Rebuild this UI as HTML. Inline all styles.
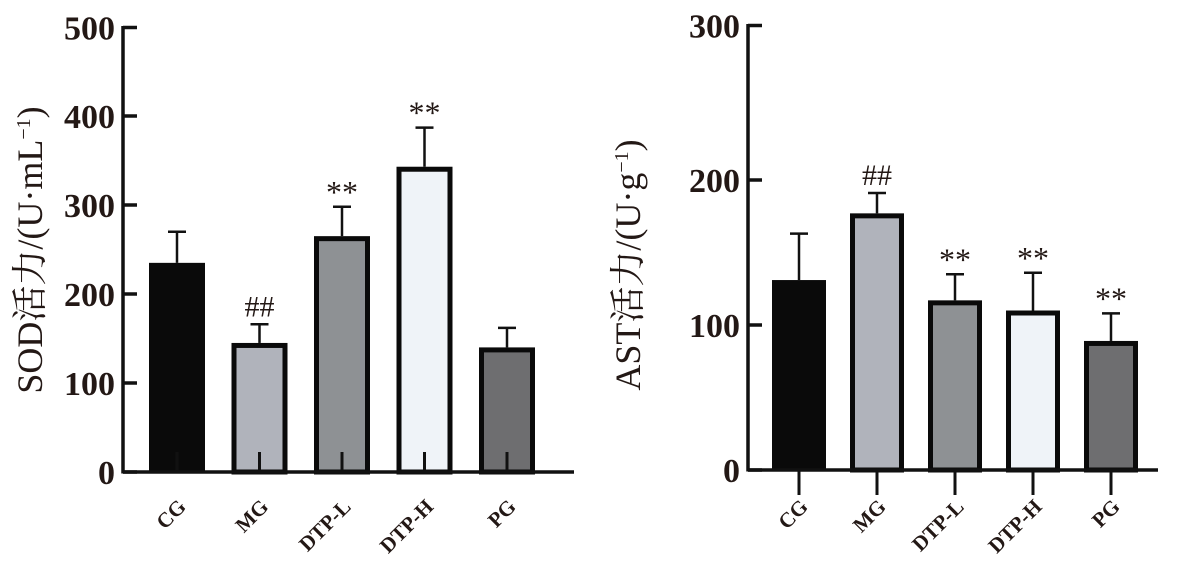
<!DOCTYPE html>
<html><head><meta charset="utf-8"><style>
body{margin:0;background:#fff;width:1181px;height:585px;overflow:hidden}
svg{display:block}
text{font-family:"Liberation Serif","Noto Serif CJK SC",serif;fill:#231815}
</style></head><body>
<svg id="svg" width="1181" height="585" viewBox="0 0 1181 585"></svg>
<script>
const categories=["CG","MG","DTP-L","DTP-H","PG"];
const sodValues=[235,145,265,343,140];
const sodErrors=[270,166,298,387,162];
const sodMarks=["","##","**","**",""];
const sodTicks=[0,100,200,300,400,500];
const astValues=[131,177,117,110,89];
const astErrors=[163,191,135,136,108];
const astMarks=["","##","**","**","**"];
const astTicks=[0,100,200,300];
const fills=["#0a0a0a","#b0b3bb","#8e9194","#eff3f8","#6e6e70"];
const NS="http://www.w3.org/2000/svg";
const svg=document.getElementById('svg');
function mk(tag,attrs,parent){const e=document.createElementNS(NS,tag);for(const k in attrs)e.setAttribute(k,attrs[k]);(parent||svg).appendChild(e);return e;}
function chart(o){
  const g=mk('g',{});
  
  
  const y=v=>o.y0-(v/o.max)*(o.y0-o.yTop);
  const x=i=>o.x0+o.first+i*o.step;
  o.values.forEach((v,i)=>{
    const cx=x(i),w=o.bw;
    const ey=y(o.errors[i]);
    const el=mk('line',{x1:cx,x2:cx,y1:y(v),y2:ey,stroke:'#111','stroke-width':2.5},g);
    
    
    const cap=mk('line',{x1:cx-9,x2:cx+9,y1:ey,y2:ey,stroke:'#111','stroke-width':2.5},g);
    
    
    const r=mk('rect',{x:cx-w/2+2.5,y:y(v)+2.5,width:w-5,height:o.y0-y(v)-2.5,fill:fills[i],stroke:'#0a0a0a','stroke-width':i===0?0:5},g);
    if(i===0){r.setAttribute('x',cx-w/2);r.setAttribute('y',y(v));r.setAttribute('width',w);r.setAttribute('height',o.y0-y(v));}
    
    
    if(o.marks[i]){
      const t=mk('text',{x:cx,y:ey-(o.marks[i]==='**'?4:8),'text-anchor':'middle','font-size':o.marks[i]==='**'?32:30},g);
      t.textContent=o.marks[i];
      
      
    }
    const tk=mk('line',{x1:cx,x2:cx,y1:o.y0,y2:o.y0+o.xtick,stroke:'#111','stroke-width':3},g);
    
    
    const lb=mk('text',{x:0,y:0,'text-anchor':'end','font-size':21,'font-weight':'bold',transform:`translate(${cx+10},${o.y0+o.labOff}) rotate(-45)`},g);
    lb.textContent=categories[i];
    
    
  });
  const ya=mk('line',{x1:o.x0,x2:o.x0,y1:o.axTop,y2:o.y0+1.5,stroke:'#111','stroke-width':3.5},g);
  
  
  const xa=mk('line',{x1:o.x0,x2:o.xEnd,y1:o.y0,y2:o.y0,stroke:'#111','stroke-width':3.5},g);
  
  
  o.ticks.forEach(t=>{
    const ty=(t===o.max)?o.axTop+1.5:y(t);
    const l=mk('line',{x1:o.x0,x2:o.x0+14,y1:ty,y2:ty,stroke:'#111','stroke-width':3.5},g);
    
    
    const tx=mk('text',{x:o.x0-8,y:ty+12,'text-anchor':'end','font-size':34,'font-weight':'bold'},g);
    tx.textContent=t;
    
    
  });
  const yt=mk('text',{x:0,y:0,'text-anchor':'middle','font-size':36,transform:`translate(${o.titleX},${o.titleY}) rotate(-90)`},g);
  yt.innerHTML=o.title;
  
  
}
chart({name:'sod-chart',x0:123,y0:472,yTop:27,axTop:26,max:500,first:54,step:82.5,bw:56,xEnd:574,xtick:-20,labOff:36,
  values:sodValues,errors:sodErrors,marks:sodMarks,ticks:sodTicks,titleX:42,titleY:250,
  title:'SOD活力/(U·mL<tspan font-size="20" dy="-12">−1</tspan><tspan dy="12">)</tspan>'});
chart({name:'ast-chart',x0:748,y0:470,yTop:35,axTop:24,max:300,first:51,step:78,bw:54,xEnd:1158,xtick:25,labOff:38,
  values:astValues,errors:astErrors,marks:astMarks,ticks:astTicks,titleX:640,titleY:265,
  title:'AST活力/(U·g<tspan font-size="20" dy="-12">−1</tspan><tspan dy="12">)</tspan>'});
</script>
</body></html>
